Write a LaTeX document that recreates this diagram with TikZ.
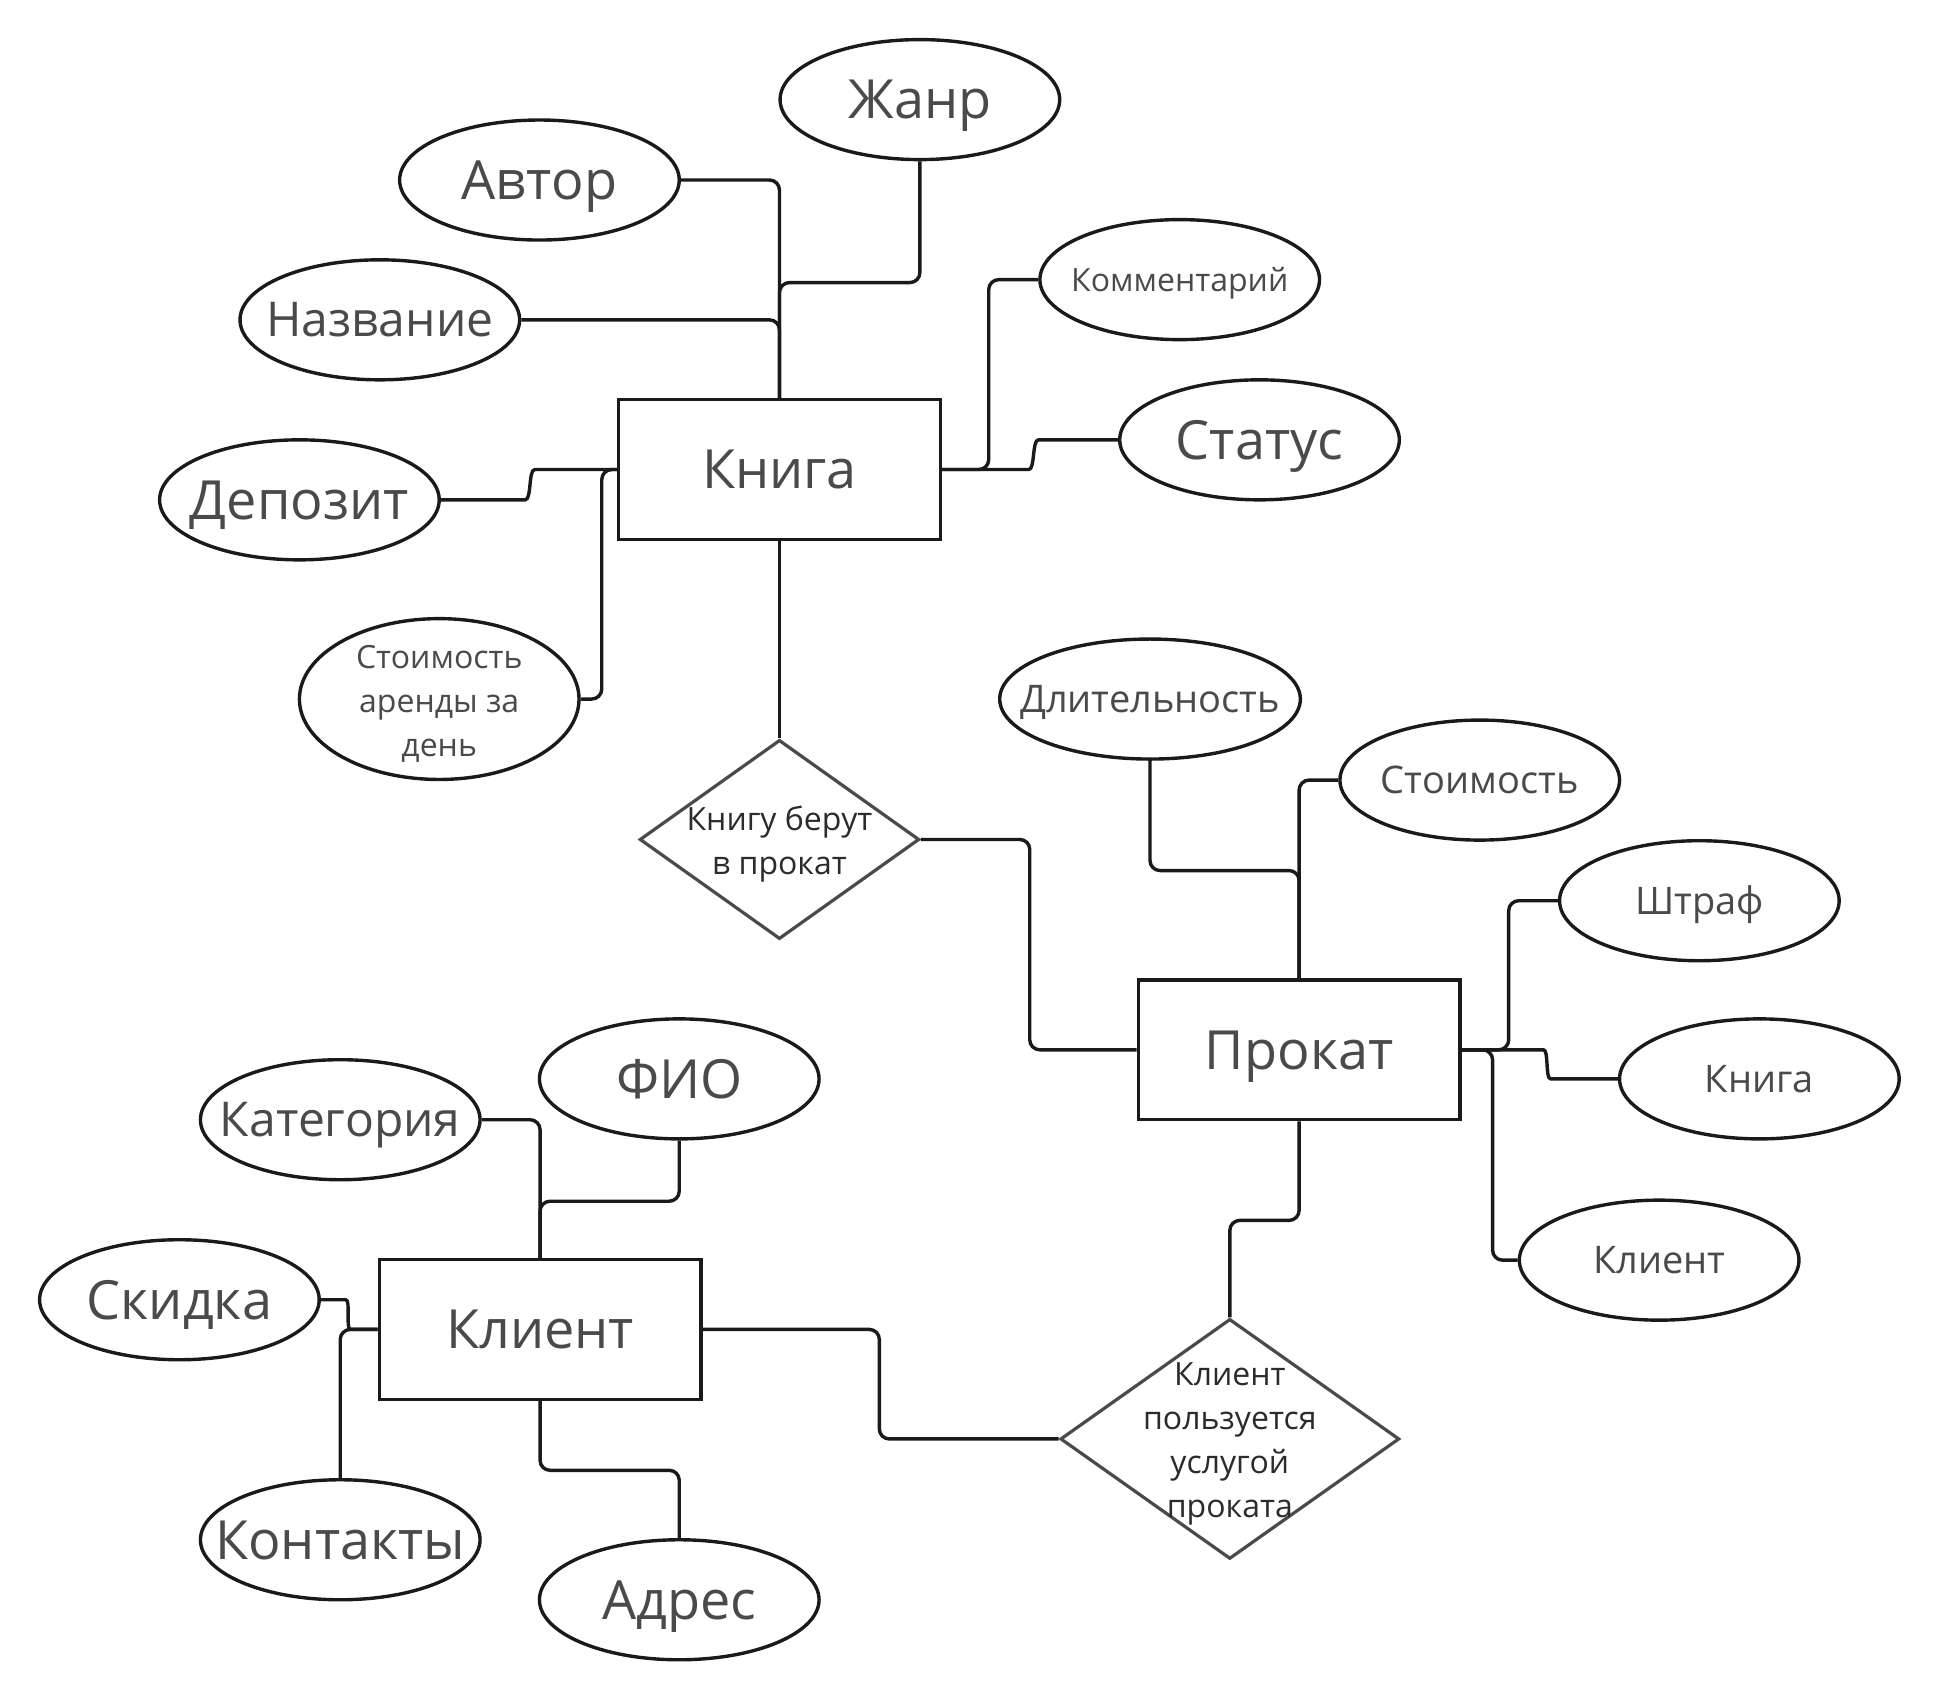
\documentclass[tikz,border=0pt]{standalone}
\usepackage{fontspec}
\setmainfont{Open Sans}
\usetikzlibrary{shapes.geometric,calc}
\newcommand\uu{0.6186pt}
\newcommand\bigtxt{\fontsize{27pt}{32pt}\selectfont}
\newcommand\bigtxtb{\fontsize{24pt}{29pt}\selectfont}
\newcommand\midtxt{\fontsize{19pt}{24pt}\selectfont}
\newcommand\smalltxt{\fontsize{16pt}{22pt}\selectfont}
\newcommand\ctr[1]{\makebox[0pt][c]{#1}}
\definecolor{ink}{HTML}{1A1A1A}
\definecolor{txt}{HTML}{4A4A4A}
\definecolor{dtxt}{HTML}{2B2B2B}
\begin{document}
\begin{tikzpicture}[x=0.6186pt,y=-0.6186pt,
  conn/.style={draw=ink,line width=1.7pt,rounded corners=5pt},
  % text boxes as tall as the capitals, so capitals sit on the node centre
  fbig/.style={font=\bigtxt,text height=19.3pt,text depth=0pt},
  fbigb/.style={font=\bigtxtb,text height=17.1pt,text depth=0pt},
  fmid/.style={font=\midtxt,text height=13.6pt,text depth=0pt},
  fsmall/.style={font=\smalltxt,text height=11.4pt,text depth=0pt},
  attr/.style={ellipse,draw=ink,line width=1.7pt,inner sep=0pt,
    minimum width=226*\uu,minimum height=97*\uu,text=txt},
  ent/.style={rectangle,draw=ink,line width=1.7pt,inner sep=0pt,
    minimum width=260*\uu,minimum height=113*\uu,text=txt,fbig},
  rel/.style={diamond,draw=txt,line width=1.6pt,inner sep=0pt},
  reltext/.style={text=dtxt,font=\smalltxt,align=center,inner sep=0pt,yshift=-2.5pt},
]
\useasboundingbox (0,0) rectangle (1568,1374);
\fill[white] (0,0) rectangle (1568,1374);

% entities
\node[ent] (kniga)  at (630,379.5)  {Книга};
\node[ent] (prokat) at (1050,848.5) {Прокат};
\node[ent] (klient) at (436.5,1074.5) {Клиент};

% relationships
\node[rel,minimum width=226*\uu,minimum height=161*\uu] (d1) at (630,678.5) {};
\node[reltext] (d1t) at (d1.center) {Книгу берут\\в прокат};
\node[rel,minimum width=274*\uu,minimum height=194*\uu] (d2) at (994,1163) {};
\node[reltext] (d2t) at (d2.center) {Клиент\\пользуется\\услугой\\проката};

% attributes of the book
\node[attr,fbig] (zhanr)   at (743.5,80.5) {\ctr{Жанр}};
\node[attr,fbig] (avtor)   at (436,145.5)  {\ctr{Автор}};
\node[attr,fbigb] (nazv)   at (307,258.5)  {\ctr{Название}};
\node[attr,fsmall] (komm)  at (953.5,226)  {\ctr{Комментарий}};
\node[attr,fbig] (status)  at (1018,355.5) {\ctr{Статус}};
\node[attr,fbig] (depozit) at (242,404)    {\ctr{Депозит}};
\node[attr,minimum height=130*\uu] (arenda) at (355,565) {};
\node[reltext,text=txt] (arendat) at (arenda.center) {Стоимость\\аренды за\\день};

% attributes of the rental
\node[attr,fmid,minimum width=243*\uu] (dlit) at (929.5,565) {\ctr{Длительность}};
\node[attr,fmid] (stoim)  at (1196,630.5)  {\ctr{Стоимость}};
\node[attr,fmid] (shtraf) at (1373.5,728)  {\ctr{Штраф}};
\node[attr,fmid] (knattr) at (1422,872)    {\ctr{Книга}};
\node[attr,fmid] (klattr) at (1341,1018.5) {\ctr{Клиент}};

% attributes of the client
\node[attr,fbig] (fio)      at (549,872)    {\ctr{ФИО}};
\node[attr,fbigb] (kateg)   at (275,905)    {\ctr{Категория}};
\node[attr,fbig] (skidka)   at (145,1050.5) {\ctr{Скидка}};
\node[attr,fbig] (kontakty) at (275,1244.5) {\ctr{Контакты}};
\node[attr,fbig] (adres)    at (549,1293)   {\ctr{Адрес}};

% book connectors
\draw[conn] (zhanr.south) -- ++(0,98) -| (kniga.north);
\draw[conn] (avtor.east) -| (kniga.north);
\draw[conn] (nazv.east) -| (kniga.north);
\draw[conn] (komm.west) -- ++(-40,0) |- (kniga.east);
\draw[conn] (kniga.east) -- ++(62,0) to[out=0,in=180] ++(24,-24) -- (status.west);
\draw[conn] (depozit.east) -- ++(60,0) to[out=0,in=180] ++(24,-24.5) -- (kniga.west);
\draw[conn] (arenda.east) -- ++(17,0) |- (kniga.west);
\draw[conn] (kniga.south) -- (d1.north);
\draw[conn] (d1.east) -- ++(88,0) |- (prokat.west);

% rental connectors
\draw[conn] (dlit.south) |- ($(prokat.north)+(0,-87)$) -- (prokat.north);
\draw[conn] (prokat.north) |- (stoim.west);
\draw[conn] (prokat.east) -- ++(38,0) |- (shtraf.west);
\draw[conn] (prokat.east) -- ++(58,0) to[out=0,in=180] ++(22,23.5) -- (knattr.west);
\draw[conn] (prokat.east) -- ++(25,0) |- (klattr.west);
\draw[conn] (prokat.south) -- ++(0,80) -| (d2.north);
\draw[conn] (d2.west) -- ++(-145,0) |- (klient.east);

% client connectors
\draw[conn] (kateg.east) -| (klient.north);
\draw[conn] (fio.south) -- ++(0,49) -| (klient.north);
\draw[conn] (skidka.east) -- ++(12,0) to[out=0,in=180] ++(20,24) -- (klient.west);
\draw[conn] (kontakty.north) |- (klient.west);
\draw[conn] (klient.south) -- ++(0,56) -| (adres.north);
\end{tikzpicture}
\end{document}
